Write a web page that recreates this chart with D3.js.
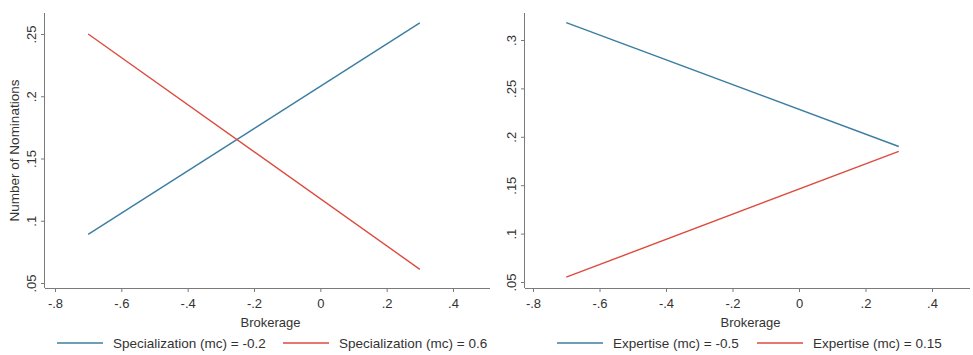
<!DOCTYPE html>
<html>
<head>
<meta charset="utf-8">
<script src="https://cdn.jsdelivr.net/npm/d3@7"></script>
<style>
  body { margin: 0; background: #fff; }
  svg { display: block; font-family: "Liberation Sans", Arial, sans-serif; }
  .domain, .tick line { stroke: #7a7a7a; }
  .tick text { fill: #333; font-size: 13px; }
</style>
</head>
<body>
<svg width="973" height="355"></svg>
<script>
// brokerage values at which the margins are drawn
const brokerage = [-0.7, 0.3];
const xTicks = [-0.8, -0.6, -0.4, -0.2, 0, 0.2, 0.4];

const specLow = [0.089, 0.259];   // Specialization (mc) = -0.2
const specHigh = [0.250, 0.061];  // Specialization (mc) = 0.6
const specTicks = [0.05, 0.1, 0.15, 0.2, 0.25];

const expLow = [0.318, 0.190];    // Expertise (mc) = -0.5
const expHigh = [0.055, 0.185];   // Expertise (mc) = 0.15
const expTicks = [0.05, 0.1, 0.15, 0.2, 0.25, 0.3];

const blue = '#3b7ea1';
const red = '#dc4b3e';

const svg = d3.select('svg');

// stata-ish labels: ".25", "-.8", "0"
const fmt = v => v === 0 ? '0' : String(+v.toFixed(2)).replace(/^(-?)0\./, '$1.');

const panels = [
  {
    left: 45, right: 490, top: 13, bottom: 288,
    x: d3.scaleLinear().domain([-0.8, 0.4]).range([55, 453]),
    y: d3.scaleLinear().domain([0.05, 0.25]).range([283, 34]),
    yTicks: specTicks,
    yTitle: 'Number of Nominations',
    series: [
      { values: specLow, color: blue, label: 'Specialization (mc) = -0.2', lx: 57 },
      { values: specHigh, color: red, label: 'Specialization (mc) = 0.6', lx: 283 },
    ],
  },
  {
    left: 525, right: 970, top: 13, bottom: 288,
    x: d3.scaleLinear().domain([-0.8, 0.4]).range([533, 932]),
    y: d3.scaleLinear().domain([0.05, 0.3]).range([282, 40]),
    yTicks: expTicks,
    yTitle: null,
    series: [
      { values: expLow, color: blue, label: 'Expertise (mc) = -0.5', lx: 557 },
      { values: expHigh, color: red, label: 'Expertise (mc) = 0.15', lx: 757 },
    ],
  },
];

panels.forEach(p => {
  const g = svg.append('g');

  // x axis
  const xa = g.append('g')
    .attr('transform', `translate(0,${p.bottom})`)
    .call(d3.axisBottom(p.x).tickValues(xTicks).tickFormat(fmt).tickSize(4).tickSizeOuter(0));
  xa.select('.domain').attr('d', `M${p.left},0.5H${p.right}`);
  xa.selectAll('.tick text').attr('dy', '1.0em');

  g.append('text')
    .attr('x', (p.left + p.right) / 2 + 3)
    .attr('y', 327)
    .attr('text-anchor', 'middle')
    .attr('font-size', 13)
    .attr('fill', '#333')
    .text('Brokerage');

  // y axis
  const ya = g.append('g')
    .attr('transform', `translate(${p.left},0)`)
    .call(d3.axisLeft(p.y).tickValues(p.yTicks).tickFormat(fmt).tickSize(4).tickSizeOuter(0));
  ya.select('.domain').attr('d', `M-0.5,${p.top}V${p.bottom}`);
  ya.selectAll('.tick text')
    .attr('x', 0).attr('dy', 0)
    .attr('text-anchor', 'middle')
    .attr('transform', 'translate(-9,0) rotate(-90)');

  if (p.yTitle) {
    g.append('text')
      .attr('transform', `translate(19,${(p.top + p.bottom) / 2}) rotate(-90)`)
      .attr('text-anchor', 'middle')
      .attr('font-size', 13.5)
      .attr('fill', '#333')
      .text(p.yTitle);
  }

  const line = d3.line().x((d, i) => p.x(brokerage[i])).y(d => p.y(d));

  p.series.forEach(s => {
    g.append('path')
      .attr('d', line(s.values))
      .attr('fill', 'none')
      .attr('stroke', s.color)
      .attr('stroke-width', 1.4);

    // legend
    g.append('line')
      .attr('x1', s.lx).attr('x2', s.lx + 46)
      .attr('y1', 343).attr('y2', 343)
      .attr('stroke', s.color).attr('stroke-width', 1.4);
    g.append('text')
      .attr('x', s.lx + 56)
      .attr('y', 348)
      .attr('font-size', 13.5)
      .attr('fill', '#333')
      .text(s.label);
  });
});
</script>
</body>
</html>
